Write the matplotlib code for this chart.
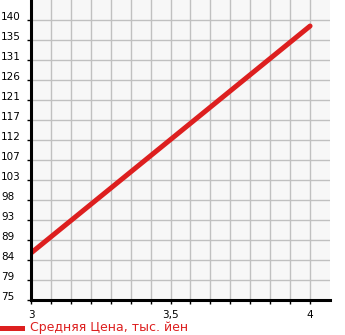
import matplotlib.pyplot as plt
from matplotlib.transforms import ScaledTranslation, blended_transform_factory

# data
annees = [3, 4]
prix = [85.9, 138.6]

y_ticks = [75, 79.64, 84.29, 88.93, 93.57, 98.21, 102.86, 107.5,
           112.14, 116.79, 121.43, 126.07, 130.71, 135.36, 140]
y_labels = ['75', '79', '84', '89', '93', '98', '103', '107',
            '112', '117', '121', '126', '131', '135', '140']
x_labels = {3: '3', 3.5: '3,5', 4: '4'}
legende = 'Средняя Цена, тыс. йен'

rouge = '#dd1f1f'

fig = plt.figure(figsize=(3.45, 3.35), dpi=100)
ax = fig.add_axes([31 / 345, 35 / 335, 299 / 345, 300 / 335])
ax.set_facecolor('#f7f7f7')

ax.plot(annees, prix, color=rouge, linewidth=3.6, solid_capstyle='round')

# axes limits: 15 y-steps of 20px, 15 x-steps of 20px
pas_y = (140 - 75) / 14
ax.set_ylim(75, 140 + pas_y)
pas_x = 0.5 / 7
ax.set_xlim(3, 4 + pas_x)

ax.set_yticks(y_ticks)
ax.set_yticklabels([])
x_grid = [3 + i * pas_x for i in range(15)]
ax.set_xticks(x_grid)
ax.set_xticklabels([x_labels.get(round(v, 3), '') for v in x_grid])

ax.grid(True, color='#c0c0c0', linewidth=1)
ax.set_axisbelow(True)

for cote in ['top', 'right']:
    ax.spines[cote].set_visible(False)
for cote in ['left', 'bottom']:
    ax.spines[cote].set_linewidth(2.2)
    ax.spines[cote].set_color('black')

ax.tick_params(axis='y', length=3, width=1)
ax.tick_params(axis='x', length=3, width=1, pad=4, labelsize=7.5)

# y labels left-aligned at the figure edge, a little above each grid line
trans = blended_transform_factory(fig.transFigure, ax.transData) + \
    ScaledTranslation(0, 3 / 100, fig.dpi_scale_trans)
for v, lab in zip(y_ticks, y_labels):
    ax.text(1 / 345, v, lab, transform=trans, fontsize=7.5, ha='left', va='center',
            clip_on=False)

# legend at the bottom
fig.lines.append(plt.Line2D([0, 22 / 345], [7 / 335, 7 / 335], transform=fig.transFigure,
                            color=rouge, linewidth=3.6))
fig.text(30 / 345, 7 / 335, legende, color=rouge, fontsize=9, va='center', ha='left')

fig.savefig('out.png', dpi=100)
